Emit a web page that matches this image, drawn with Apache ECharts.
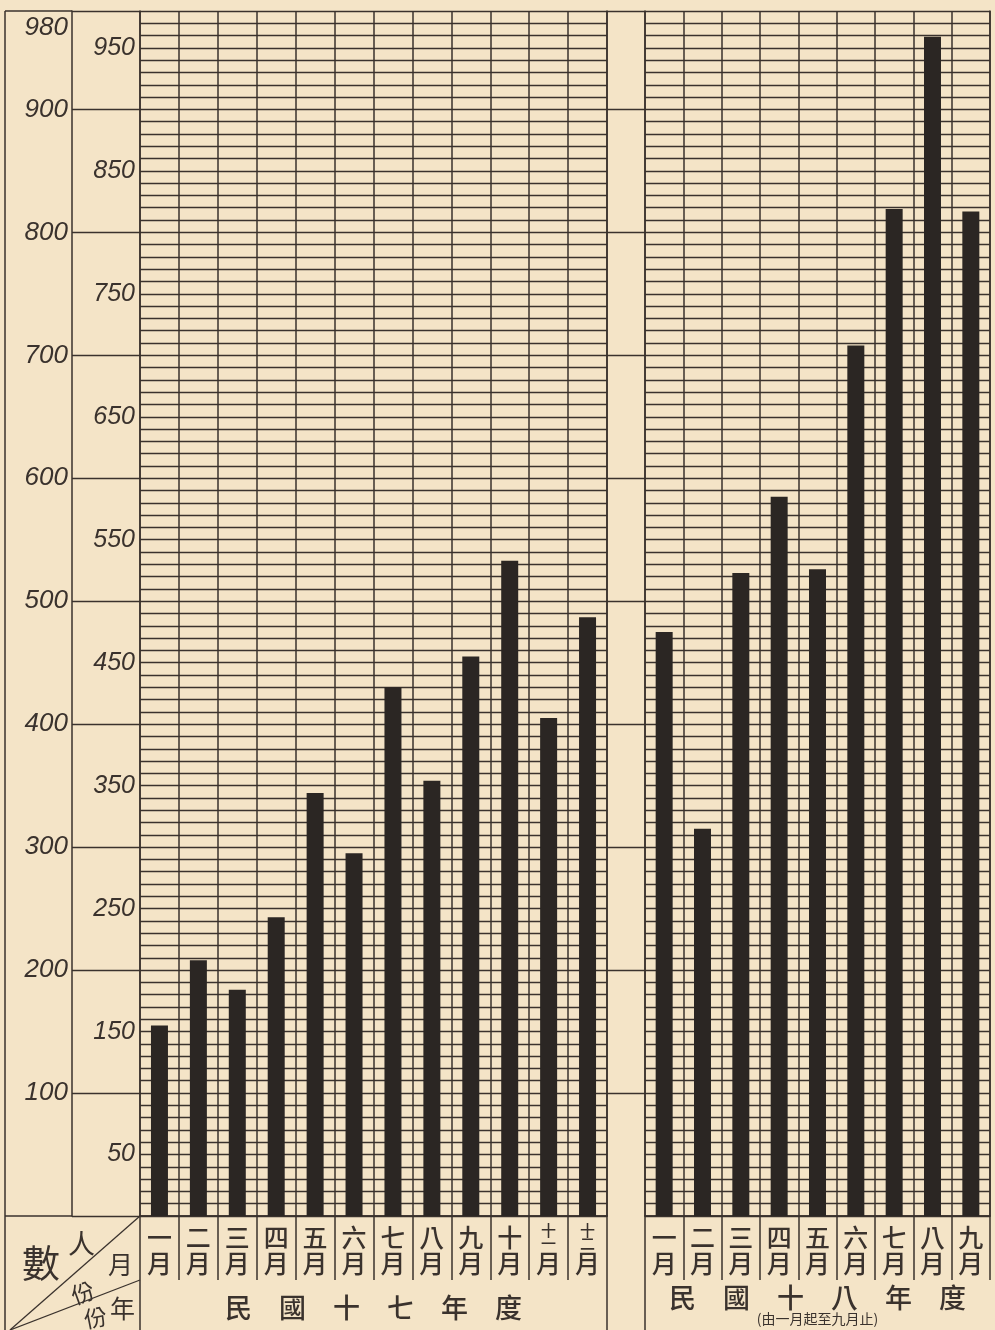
<!DOCTYPE html>
<html>
<head>
<meta charset="utf-8">
<script src="https://cdn.jsdelivr.net/npm/echarts@6/dist/echarts.min.js"></script>
<style>
  html, body { margin: 0; padding: 0; background: #f3e2c4; }
  #chart { width: 995px; height: 1330px; }
</style>
</head>
<body>
<div id="chart"></div>
<script>
// categories
let monthsY17 = ['一月', '二月', '三月', '四月', '五月', '六月', '七月', '八月', '九月', '十月', '十一月', '十二月'];
let monthsY18 = ['一月', '二月', '三月', '四月', '五月', '六月', '七月', '八月', '九月'];
// values (persons per month)
let valuesY17 = [155, 208, 184, 243, 344, 295, 430, 354, 455, 533, 405, 487];
let valuesY18 = [475, 315, 523, 585, 526, 708, 819, 959, 817];
// tick labels
let outerLabels = [100, 200, 300, 400, 500, 600, 700, 800, 900, 980];
let innerLabels = [50, 150, 250, 350, 450, 550, 650, 750, 850, 950];

let yearY17 = '民　國　十　七　年　度';
let yearY18 = '民　國　十　八　年　度';
let noteY18 = '(由一月起至九月止)';

// =====================================================================================================================
let ink = '#3a322d';
let barInk = '#2b2623';
let cjk = '"Noto Sans CJK TC", "Noto Sans CJK SC", sans-serif';
let digits = '"Liberation Sans", "DejaVu Sans", sans-serif';

let gridTop = 11;
let gridBottom = 1330 - 1216;
let maxVal = 980;

function monthLabel(v) {
  'use strict';
  if (v.length === 3) {
    return '{s|' + v[0] + '}\n{s|' + v[1] + '}\n{m|' + v[2] + '}';
  }
  return '{m|' + v[0] + '}\n{m|' + v[1] + '}';
}

let monthRich = {
  m: { fontSize: 25, lineHeight: 26, fontFamily: cjk, fontWeight: 500, color: ink },
  s: { fontSize: 15, lineHeight: 13, fontFamily: cjk, fontWeight: 500, color: ink }
};

let gridLine = { color: ink, width: 1.3 };

function panelX(gridIndex, data) {
  'use strict';
  return {
    type: 'category',
    gridIndex: gridIndex,
    position: 'bottom',
    data: data,
    boundaryGap: true,
    axisLine: { show: true, lineStyle: { color: ink, width: 1.5 } },
    axisTick: { show: true, interval: 0, length: 64, lineStyle: { color: ink, width: 1.5 } },
    splitLine: { show: true, interval: 0, lineStyle: { color: ink, width: 1.5 } },
    axisLabel: { interval: 0, margin: 8, formatter: monthLabel, rich: monthRich }
  };
}

function yearX(gridIndex, data, name, gap) {
  'use strict';
  return {
    type: 'category',
    gridIndex: gridIndex,
    position: 'bottom',
    data: data,
    offset: 64,
    axisLine: { show: true, lineStyle: { color: ink, width: 1.5 } },
    axisTick: { show: false },
    axisLabel: { show: false },
    name: name,
    nameLocation: 'middle',
    nameGap: gap,
    nameTextStyle: {
      verticalAlign: 'middle',
      rich: {
        a: { fontSize: 27, fontFamily: cjk, fontWeight: 500, color: ink, lineHeight: 28 },
        b: { fontSize: 14, fontFamily: cjk, color: ink, lineHeight: 15 }
      }
    }
  };
}

function paperY(gridIndex) {
  'use strict';
  return {
    type: 'value',
    gridIndex: gridIndex,
    min: 0,
    max: maxVal,
    interval: 10,
    axisLine: { show: true, lineStyle: { color: ink, width: 1.5 } },
    axisTick: { show: false },
    axisLabel: { show: false },
    splitLine: { show: true, lineStyle: gridLine }
  };
}

let hiddenX = function (gridIndex) {
  'use strict';
  return { type: 'value', gridIndex: gridIndex, show: false, min: 0, max: 1 };
};

function makeGrid(left, width) {
  'use strict';
  return { left: left, width: width, top: gridTop, bottom: gridBottom, containLabel: false, outerBoundsMode: 'none' };
}

let dom = document.getElementById('chart');
let chart = echarts.init(dom, null, { renderer: 'canvas' });
let option = {
  backgroundColor: '#f4e4c7',
  animation: false,
  grid: [
    makeGrid(140, 467),   // 民國十七年
    makeGrid(645, 345),   // 民國十八年
    makeGrid(72, 68),     // axis strip
    makeGrid(607, 38)     // gap
  ],
  xAxis: [
    panelX(0, monthsY17),
    panelX(1, monthsY18),
    yearX(0, monthsY17, '{a|' + yearY17 + '}', 28),
    yearX(1, monthsY18, '{a|' + yearY18 + '}\n{b|' + noteY18 + '}', 25),
    hiddenX(2),
    hiddenX(3)
  ],
  yAxis: [
    paperY(0),
    paperY(1),
    // outer scale 100 .. 980
    {
      type: 'value', gridIndex: 2, min: 0, max: maxVal, interval: 100, position: 'left',
      axisLine: { show: true, lineStyle: { color: ink, width: 1.5 } },
      axisTick: { show: false },
      splitLine: { show: true, lineStyle: gridLine },
      axisLabel: {
        margin: 4,
        fontSize: 26,
        fontStyle: 'italic',
        fontFamily: digits,
        color: ink,
        lineHeight: 34,
        formatter: function (v) {
          if (outerLabels.indexOf(v) < 0) {
            return '';
          }
          // the top label sits just under the frame
          return v === maxVal ? '\n' + v : String(v);
        }
      }
    },
    // inner scale 50 .. 950
    {
      type: 'value', gridIndex: 2, min: 0, max: maxVal, interval: 50, position: 'right',
      axisLine: { show: false },
      axisTick: { show: false },
      splitLine: { show: false },
      axisLabel: {
        inside: true,
        margin: 5,
        fontSize: 25,
        fontStyle: 'italic',
        fontFamily: digits,
        color: ink,
        formatter: function (v) {
          return innerLabels.indexOf(v) < 0 ? '' : String(v);
        }
      }
    },
    // gap between the two years
    {
      type: 'value', gridIndex: 3, min: 0, max: maxVal, interval: 100,
      axisLine: { show: false }, axisTick: { show: false }, axisLabel: { show: false },
      splitLine: { show: true, showMinLine: false, lineStyle: gridLine }
    },
    // right borders
    {
      type: 'value', gridIndex: 0, min: 0, max: maxVal, position: 'right',
      axisLine: { show: true, lineStyle: { color: ink, width: 1.5 } },
      axisTick: { show: false }, axisLabel: { show: false }, splitLine: { show: false }
    },
    {
      type: 'value', gridIndex: 1, min: 0, max: maxVal, position: 'right',
      axisLine: { show: true, lineStyle: { color: ink, width: 1.5 } },
      axisTick: { show: false }, axisLabel: { show: false }, splitLine: { show: false }
    }
  ],
  series: [
    {
      name: '民國十七年度',
      type: 'bar',
      xAxisIndex: 0,
      yAxisIndex: 0,
      barWidth: 17,
      data: valuesY17,
      itemStyle: { color: barInk }
    },
    {
      name: '民國十八年度',
      type: 'bar',
      xAxisIndex: 1,
      yAxisIndex: 1,
      barWidth: 17,
      data: valuesY18,
      itemStyle: { color: barInk }
    }
  ],
  graphic: [
    // outer frame and header cell
    { type: 'line', shape: { x1: 5, y1: gridTop, x2: 5, y2: 1330 }, style: { stroke: ink, lineWidth: 1.5 } },
    { type: 'line', shape: { x1: 5, y1: gridTop, x2: 72, y2: gridTop }, style: { stroke: ink, lineWidth: 1.5 } },
    { type: 'line', shape: { x1: 5, y1: 1216, x2: 72, y2: 1216 }, style: { stroke: ink, lineWidth: 1.5 } },
    { type: 'line', shape: { x1: 140, y1: 1280, x2: 140, y2: 1330 }, style: { stroke: ink, lineWidth: 1.5 } },
    { type: 'line', shape: { x1: 607, y1: 1280, x2: 607, y2: 1330 }, style: { stroke: ink, lineWidth: 1.5 } },
    { type: 'line', shape: { x1: 645, y1: 1280, x2: 645, y2: 1330 }, style: { stroke: ink, lineWidth: 1.5 } },
    { type: 'line', shape: { x1: 10, y1: 1330, x2: 140, y2: 1216 }, style: { stroke: ink, lineWidth: 1.3 } },
    { type: 'line', shape: { x1: 10, y1: 1330, x2: 140, y2: 1280 }, style: { stroke: ink, lineWidth: 1.3 } },
    { type: 'text', left: 22, top: 1244, style: { text: '數', fontSize: 38, fontFamily: cjk, fill: ink } },
    { type: 'text', left: 68, top: 1230, style: { text: '人', fontSize: 27, fontFamily: cjk, fill: ink } },
    { type: 'text', left: 108, top: 1252, style: { text: '月', fontSize: 25, fontFamily: cjk, fill: ink } },
    { type: 'text', left: 68, top: 1278, rotation: 0.35, style: { text: '份', fontSize: 23, fontFamily: cjk, fill: ink } },
    { type: 'text', left: 82, top: 1304, rotation: 0.2, style: { text: '份', fontSize: 23, fontFamily: cjk, fill: ink } },
    { type: 'text', left: 110, top: 1296, style: { text: '年', fontSize: 25, fontFamily: cjk, fill: ink } }
  ]
};

option && chart.setOption(option);
</script>
</body>
</html>
